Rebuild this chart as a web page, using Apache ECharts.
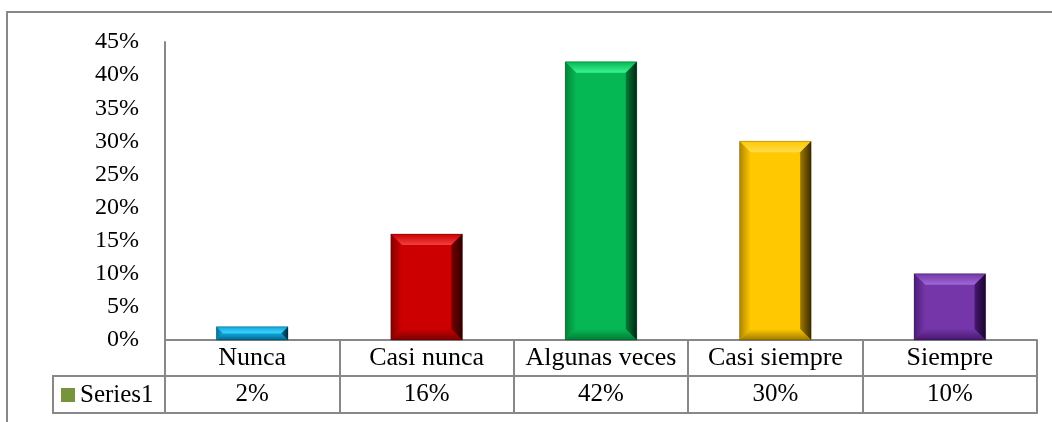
<!DOCTYPE html>
<html>
<head>
<meta charset="utf-8">
<script src="https://cdn.jsdelivr.net/npm/echarts@6/dist/echarts.min.js"></script>
<style>html,body{margin:0;padding:0;background:#fff;}#c{width:1052px;height:422px;}</style>
</head>
<body>
<div id="c"></div>
<script>
const categories = ['Nunca', 'Casi nunca', 'Algunas veces', 'Casi siempre', 'Siempre'];
const values = [2, 16, 42, 30, 10];
const seriesName = 'Series1';
const yTicks = { min: 0, max: 45, interval: 5 };
// [main, light, dark, veryDark]
const barColors = [
  ['#0EA9DE', '#45D2FF', '#05658A', '#002C40'],
  ['#CC0000', '#F04040', '#7A0000', '#2E0000'],
  ['#05B853', '#3BF595', '#037A36', '#002A12'],
  ['#FFC800', '#FFDC50', '#A07A00', '#3A2C00'],
  ['#7436A8', '#A068D6', '#46186E', '#1A0530']
];

const FONT = '"Liberation Serif", "Times New Roman", serif';
const LINE = '#888888';

const chart = echarts.init(document.getElementById('c'), null, { renderer: 'canvas' });
const G = echarts.graphic;

function renderItem(params, api) {
  const idx = api.value(0), v = api.value(1);
  const top = api.coord([idx, v]);
  const base = api.coord([idx, 0]);
  const bw = api.size([1, 0])[0] * 0.41;
  const x0 = top[0] - bw / 2, x1 = top[0] + bw / 2, y0 = top[1], y1 = base[1];
  const h = y1 - y0;
  const b = Math.min(11, h / 2, bw / 2);
  const c = barColors[idx];
  return {
    type: 'group',
    children: [
      { type: 'rect', shape: { x: x0, y: y0, width: bw, height: h }, style: { fill: c[0] } },
      { type: 'polygon', shape: { points: [[x0, y0], [x1, y0], [x1 - b, y0 + b], [x0 + b, y0 + b]] },
        style: { fill: new G.LinearGradient(0, 0, 0, 1, [{ offset: 0, color: c[0] }, { offset: 1, color: c[1] }]) } },
      { type: 'polygon', shape: { points: [[x0, y1], [x1, y1], [x1 - b, y1 - b], [x0 + b, y1 - b]] },
        style: { fill: new G.LinearGradient(0, 0, 0, 1, [{ offset: 0, color: c[0] }, { offset: 1, color: c[2] }]) } },
      { type: 'polygon', shape: { points: [[x0, y0], [x0 + b, y0 + b], [x0 + b, y1 - b], [x0, y1]] },
        style: { fill: new G.LinearGradient(0, 0, 1, 0, [{ offset: 0, color: c[2] }, { offset: 1, color: c[0] }]), opacity: 0.85 } },
      { type: 'polygon', shape: { points: [[x1, y0], [x1, y1], [x1 - b, y1 - b], [x1 - b, y0 + b]] },
        style: { fill: new G.LinearGradient(0, 0, 1, 0, [{ offset: 0, color: c[2] }, { offset: 1, color: c[3] }]) } },
      { type: 'rect', shape: { x: x0, y: y0, width: bw, height: h }, style: { fill: 'none', stroke: 'rgba(0,0,0,0.25)', lineWidth: 1 } }
    ]
  };
}

const option = {
  animation: false,
  backgroundColor: '#ffffff',
  grid: { left: 165, top: 42, width: 872, height: 298 },
  legend: {
    show: true,
    left: 61, top: 382, padding: 0,
    icon: 'rect', itemWidth: 14, itemHeight: 14,
    data: [seriesName],
    textStyle: { fontFamily: FONT, fontSize: 25, color: '#000', lineHeight: 26 }
  },
  xAxis: [
    {
      type: 'category', data: categories, position: 'bottom',
      axisLine: { show: true, lineStyle: { color: LINE, width: 2 } },
      axisTick: { show: true, length: 73, alignWithLabel: false, lineStyle: { color: LINE, width: 2 } },
      axisLabel: { margin: 5, fontFamily: FONT, fontSize: 26, color: '#000', lineHeight: 26, interval: 0 },
      splitLine: { show: false }
    },
    {
      type: 'category', data: values.map(v => v + '%'), position: 'bottom', offset: 36,
      axisLine: { show: true, lineStyle: { color: LINE, width: 2 } },
      axisTick: { show: false },
      axisLabel: { margin: 6, fontFamily: FONT, fontSize: 25, color: '#000', lineHeight: 25, interval: 0 },
      splitLine: { show: false }
    },
    {
      type: 'category', data: categories, position: 'bottom', offset: 73,
      axisLine: { show: true, lineStyle: { color: LINE, width: 2 } },
      axisTick: { show: false },
      axisLabel: { show: false },
      splitLine: { show: false }
    }
  ],
  yAxis: {
    type: 'value', min: yTicks.min, max: yTicks.max, interval: yTicks.interval,
    axisLine: { show: true, lineStyle: { color: LINE, width: 2 } },
    axisTick: { show: false },
    splitLine: { show: false },
    axisLabel: { formatter: '{value}%', margin: 26, fontFamily: FONT, fontSize: 24, color: '#000' }
  },
  series: [{
    name: seriesName,
    type: 'custom',
    xAxisIndex: 0,
    renderItem: renderItem,
    itemStyle: { color: '#77933C' },
    encode: { x: 0, y: 1 },
    data: values.map((v, i) => [i, v])
  }],
  graphic: [
    { type: 'rect', shape: { x: 7, y: 12, width: 1100, height: 500 }, style: { fill: 'none', stroke: LINE, lineWidth: 2 }, silent: true },
    { type: 'rect', shape: { x: 53, y: 376, width: 112, height: 37 }, style: { fill: 'none', stroke: LINE, lineWidth: 2 }, silent: true }
  ]
};
chart.setOption(option);
</script>
</body>
</html>
